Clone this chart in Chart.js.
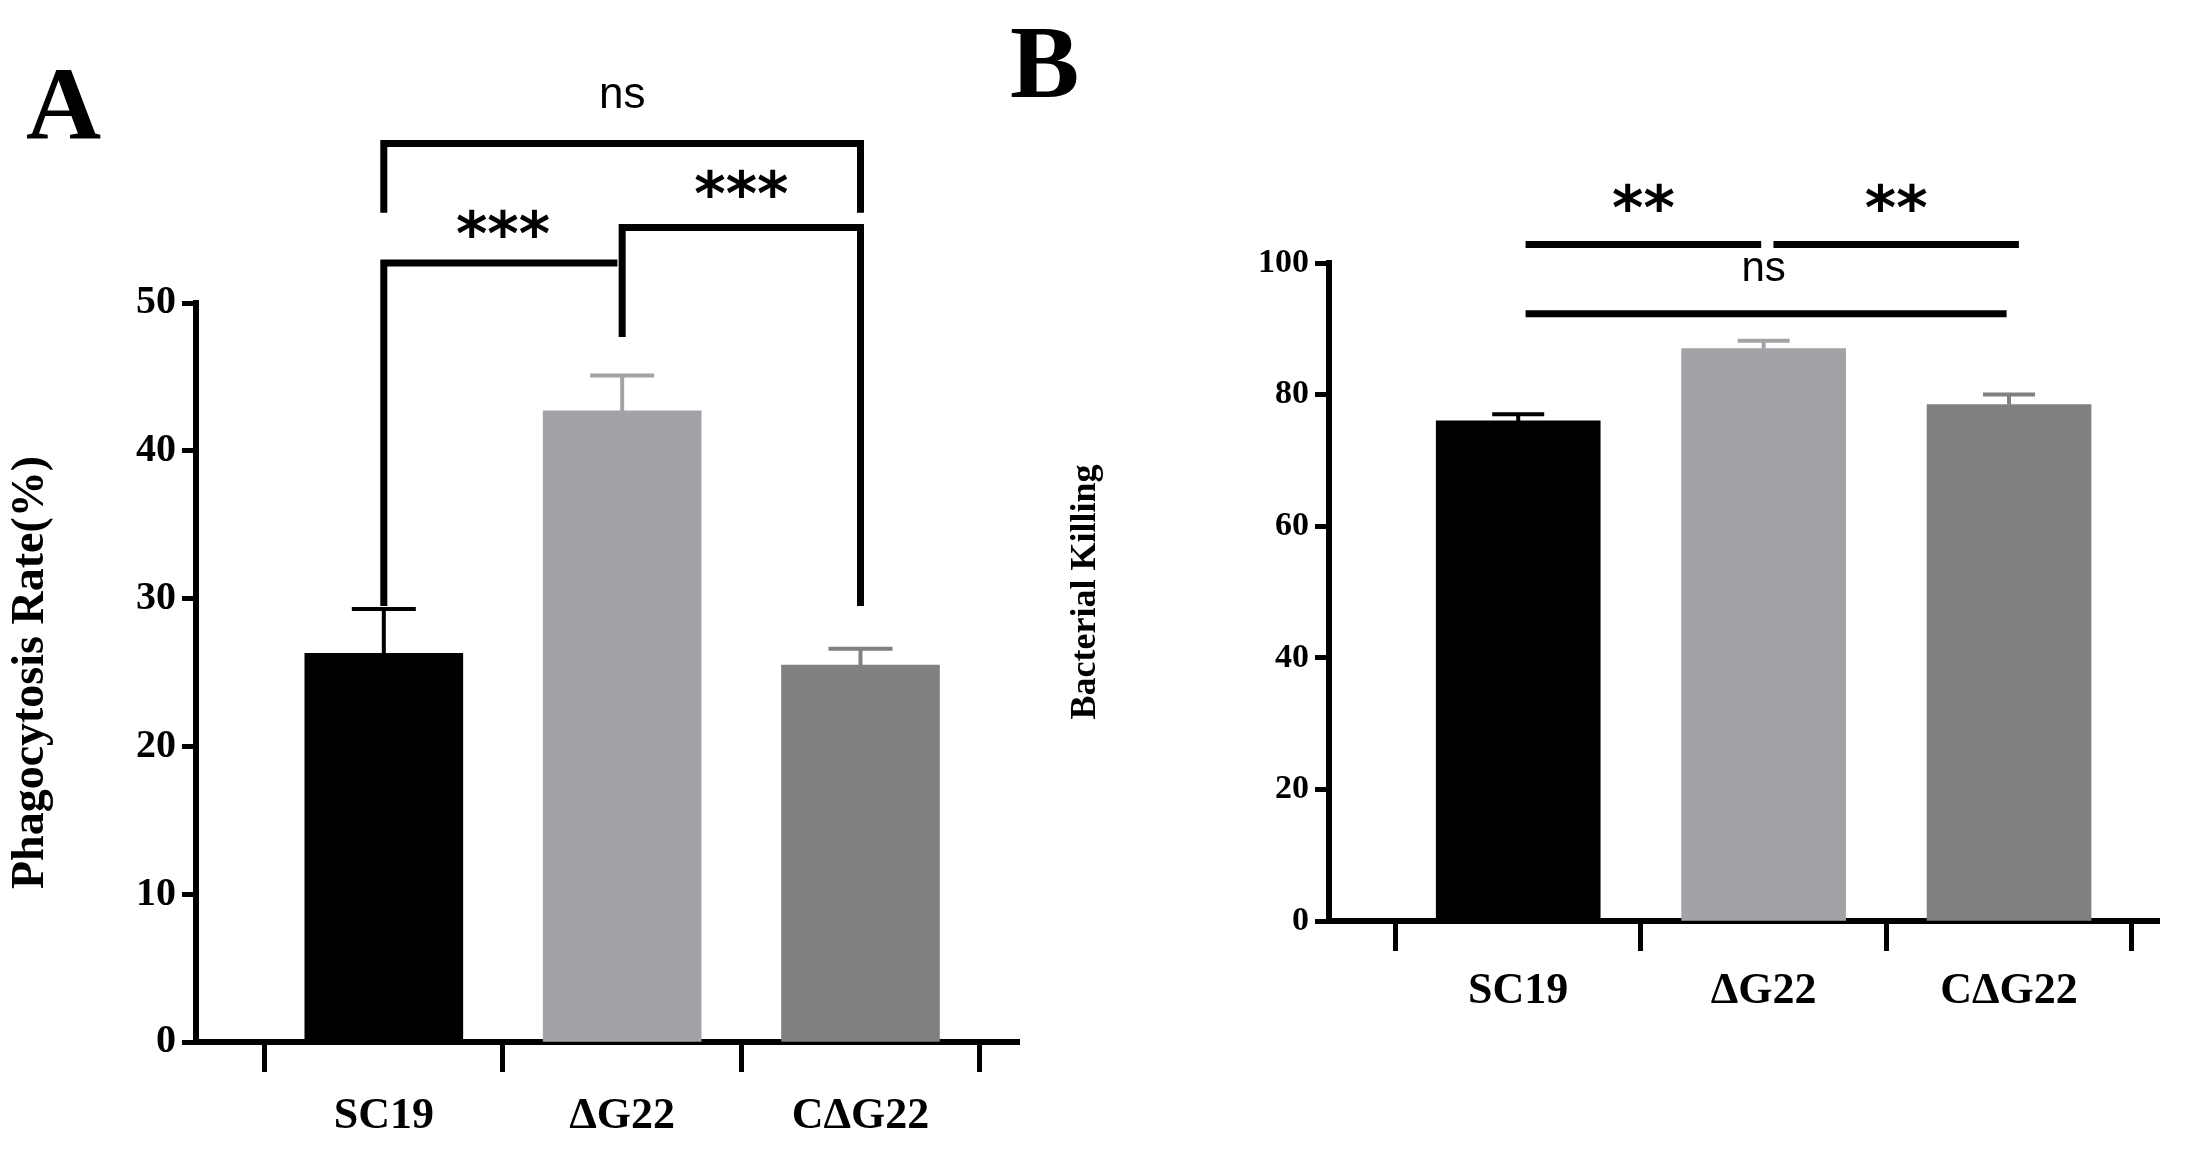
<!DOCTYPE html>
<html><head><meta charset="utf-8">
<script src="https://cdn.jsdelivr.net/npm/chart.js@4/dist/chart.umd.min.js"></script>
<style>html,body{margin:0;padding:0;background:#fff;width:2198px;height:1158px;overflow:hidden}
#a{position:absolute;left:0;top:0;width:1060px;height:1158px}
#b{position:absolute;left:1060px;top:0;width:1138px;height:1158px}
.lab{position:absolute;font-family:"Liberation Serif";font-weight:bold;font-size:104px;line-height:1}</style>
</head><body>
<div id="a"><canvas id="ca"></canvas></div>
<div id="b"><canvas id="cb"></canvas></div>
<div class="lab" style="left:26px;top:52px">A</div>
<div class="lab" style="left:1010px;top:10px">B</div>
<script>
const categories = ["SC19", "\u0394G22", "C\u0394G22"];
const phagoValues = [26.3, 42.7, 25.5];
const phagoErrors = [3.0, 2.4, 1.1];
const killValues = [76.0, 87.0, 78.5];
const killErrors = [1.0, 1.2, 1.5];
const barColors = ["#000000", "#a3a2a7", "#808080"];
const phagoTicks = [0, 10, 20, 30, 40, 50];
const killTicks = [0, 20, 40, 60, 80, 100];

const serif = "Liberation Serif";

function makeChart(id, vals, errs, opts) {
  const errPlugin = {
    id: 'extras' + id,
    afterDatasetsDraw(chart) {
      const ctx = chart.ctx, xs = chart.scales.x, ys = chart.scales.y;
      ctx.save();
      vals.forEach((v, i) => {
        const x = xs.getPixelForValue(i), y0 = ys.getPixelForValue(v), y1 = ys.getPixelForValue(v + errs[i]);
        ctx.strokeStyle = barColors[i]; ctx.lineWidth = 4;
        ctx.beginPath(); ctx.moveTo(x, y0); ctx.lineTo(x, y1);
        ctx.moveTo(x - opts.cap, y1); ctx.lineTo(x + opts.cap, y1); ctx.stroke();
      });
      ctx.strokeStyle = '#000'; ctx.fillStyle = '#000'; ctx.lineWidth = 7; ctx.lineCap = 'butt'; ctx.lineJoin = 'miter';
      opts.paths.forEach(p => {
        ctx.beginPath();
        p.forEach((pt, k) => { const px = xs.getPixelForValue(pt[0]), py = ys.getPixelForValue(pt[1]); k ? ctx.lineTo(px, py) : ctx.moveTo(px, py); });
        ctx.stroke();
      });
      ctx.textAlign = 'center'; ctx.textBaseline = 'middle';
      opts.texts.forEach(t => {
        ctx.font = t.font;
        ctx.fillText(t.s, xs.getPixelForValue(t.x), ys.getPixelForValue(t.y));
      });
      ctx.restore();
    }
  };
  return new Chart(document.getElementById(id), {
    type: 'bar',
    data: { datasets: [{ data: vals.map((v, i) => ({ x: i, y: v })), backgroundColor: barColors, barThickness: opts.barW, borderWidth: 0 }] },
    options: {
      responsive: true, maintainAspectRatio: false, animation: false,
      plugins: { legend: { display: false }, tooltip: { enabled: false } },
      layout: { padding: { top: opts.top, right: opts.right, left: 0, bottom: 0 } },
      scales: {
        x: {
          type: 'linear', min: opts.xmin, max: opts.xmax, offset: false,
          afterBuildTicks: s => { s.ticks = [{ value: 0 }, { value: 1 }, { value: 2 }]; },
          afterFit: s => { s.height = opts.xh; },
          grid: { drawOnChartArea: false, drawTicks: true, tickLength: opts.xtick, tickWidth: 5, tickColor: '#000' },
          border: { color: '#000', width: 6 },
          ticks: { callback: v => categories[v], color: '#000', padding: opts.xpad, font: { family: serif, weight: 'bold', size: opts.xfont } }
        },
        y: {
          min: 0, max: opts.ymax,
          afterBuildTicks: s => { s.ticks = opts.yticks.map(v => ({ value: v })); },
          afterFit: s => { s.width = opts.yw; },
          grid: { drawOnChartArea: false, drawTicks: true, tickLength: 14, tickWidth: 5, tickColor: '#000' },
          border: { color: '#000', width: 6 },
          ticks: { color: '#000', padding: 6, font: { family: serif, weight: 'bold', size: opts.yfont } },
          title: { display: true, text: opts.title, color: '#000', padding: { bottom: opts.tpad }, font: { family: serif, weight: 'bold', size: opts.tfont } }
        }
      }
    },
    plugins: [errPlugin]
  });
}

makeChart('ca', phagoValues, phagoErrors, {
  top: 303, right: 41, yw: 196, xh: 116, xmin: -0.788, xmax: 2.665, barW: 158, cap: 32,
  xtick: 30, xpad: 18, xfont: 44, yfont: 40, ymax: 50, yticks: phagoTicks,
  title: 'Phagocytosis Rate(%)', tfont: 46, tpad: 14,
  paths: [
    [[0, 56.1], [0, 60.8], [2, 60.8], [2, 56.1]],
    [[0, 29.5], [0, 52.7], [0.98, 52.7]],
    [[1, 47.7], [1, 55.1], [2, 55.1], [2, 29.5]]
  ],
  texts: [
    { s: 'ns', x: 1, y: 64.0, font: '44px "Liberation Sans"' },
    { s: '***', x: 0.5, y: 54.3, font: 'bold 60px "DejaVu Sans"' },
    { s: '***', x: 1.5, y: 57.0, font: 'bold 60px "DejaVu Sans"' }
  ]
});

makeChart('cb', killValues, killErrors, {
  top: 263, right: 39, yw: 269, xh: 237, xmin: -0.771, xmax: 2.611, barW: 164, cap: 26,
  xtick: 30, xpad: 14, xfont: 44, yfont: 34, ymax: 100, yticks: killTicks,
  title: 'Bacterial Killing', tfont: 36, tpad: 22,
  paths: [
    [[0.03, 102.8], [0.99, 102.8]],
    [[1.04, 102.8], [2.04, 102.8]],
    [[0.03, 92.3], [1.99, 92.3]]
  ],
  texts: [
    { s: '**', x: 0.51, y: 107.5, font: 'bold 60px "DejaVu Sans"' },
    { s: '**', x: 1.54, y: 107.5, font: 'bold 60px "DejaVu Sans"' },
    { s: 'ns', x: 1.0, y: 99.0, font: '42px "Liberation Sans"' }
  ]
});
</script>
</body></html>
